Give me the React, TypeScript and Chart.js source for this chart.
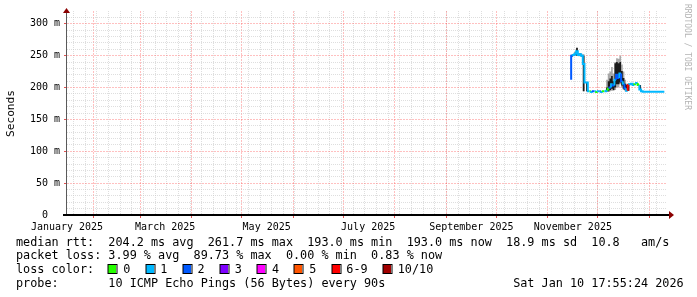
import React, { useEffect, useRef } from "react";
import { Chart, registerables } from "chart.js";

Chart.register(...registerables);

// ---- time axis (days counted from 1 Jan 2025) ----
const X_MIN_DAY = 15;
const X_MAX_DAY = 375;
const WEEK_DAYS = [19, 26, 33, 40, 47, 54, 61, 68, 75, 82, 89, 96, 103, 110, 117, 124, 131, 138, 145, 152, 159, 166, 173, 180, 187, 194, 201, 208, 215, 222, 229, 236, 243, 250, 257, 264, 271, 278, 285, 292, 299, 306, 313, 320, 327, 334, 341, 348, 355, 362, 369];
const MONTH_DAYS = [31, 59, 90, 120, 151, 181, 212, 243, 273, 304, 334, 365];
const MONTH_LABEL_DAYS = [15, 74, 135, 196, 258, 319];
const MONTH_LABELS = ["January 2025", "March 2025", "May 2025", "July 2025", "September 2025", "November 2025"];

// ---- value axis (milliseconds) ----
const Y_MAX = 320;
const Y_MINOR = [10, 20, 30, 40, 60, 70, 80, 90, 110, 120, 130, 140, 160, 170, 180, 190, 210, 220, 230, 240, 260, 270, 280, 290, 310];
const Y_MAJOR = [0, 50, 100, 150, 200, 250, 300];
const Y_LABELS = ["0  ", "50 m", "100 m", "150 m", "200 m", "250 m", "300 m"];

// ---- measurements ----
const DAYS = [318, 319, 320, 321, 322, 323, 324, 325, 326, 327, 328, 329, 330, 331, 332, 333, 334, 335, 336, 337, 338, 339, 340, 341, 342, 343, 344, 345, 346, 347, 348, 349, 350, 351, 352, 353, 354, 355, 356, 357, 358, 359, 360, 361, 362, 363, 364, 365, 366, 367, 368, 369, 370, 371, 372, 373, 374];
const MEDIAN_MS = [212, 250, 251, 253, 257, 251, 252, 250, 237, 208, 208, 194, 194, 193, 194, 194, 193, 194, 194, 193, 194, 194, 195, 198, 200, 205, 203, 212, 220, 215, 222, 210, 206, 199, 195, 204, 205, 206, 204, 205, 207, 204, 197, 194, 193.5, 193.5, 193.5, 193.5, 193.5, 193.5, 193.5, 193.5, 193.5, 193.5, 193.5, 193.5, 193.5];
const LOSS = [2, 1, 1, 1, 1, 1, 1, 1, 1, 1, 1, 0, 1, 2, 1, 0, 1, 2, 1, 0, 1, 1, 0, 2, 1, 2, 1, 2, 2, 1, 2, 1, 2, 1, 7, 1, 1, 1, 0, 1, 0, 1, 1, 1, 1, 1, 1, 1, 1, 1, 1, 1, 1, 1, 1, 1, 1];
const SMOKE_LO = [210, 248, 249, 250, 250, 249, 249, 248, 194, 208, 194, 194, 194, 193, 194, 194, 193, 194, 194, 193, 194, 194, 193, 193, 194, 195, 195, 196, 200, 200, 205, 200, 196, 194, 194, 195, 205, 206, 204, 205, 207, 204, 196, 194, 193.5, 193.5, 193.5, 193.5, 193.5, 193.5, 193.5, 193.5, 193.5, 193.5, 193.5, 193.5, 193.5];
const SMOKE_HI = [250, 252, 253, 256, 263, 254, 254, 252, 252, 208, 208, 194, 194, 193, 194, 194, 193, 194, 194, 193, 194, 194, 212, 222, 225, 232, 222, 240, 246, 245, 250, 236, 225, 212, 206, 207, 205, 206, 204, 205, 207, 204, 204, 194, 193.5, 193.5, 193.5, 193.5, 193.5, 193.5, 193.5, 193.5, 193.5, 193.5, 193.5, 193.5, 193.5];
const CORE_LO = [212, 249, 250, 251, 250, 250, 250, 249, 194, 208, 194, 194, 194, 193, 194, 194, 193, 194, 194, 193, 194, 194, 194, 194, 196, 198, 196, 200, 205, 205, 208, 203, 198, 196, 195, 195, 205, 206, 204, 205, 207, 204, 196, 194, 193.5, 193.5, 193.5, 193.5, 193.5, 193.5, 193.5, 193.5, 193.5, 193.5, 193.5, 193.5, 193.5];
const CORE_HI = [248, 251, 252, 255, 262, 253, 253, 251, 250, 208, 208, 194, 194, 193, 194, 194, 193, 194, 194, 193, 194, 194, 200, 210, 214, 218, 210, 238, 240, 238, 240, 226, 215, 206, 204, 205, 205, 206, 204, 205, 207, 204, 204, 194, 193.5, 193.5, 193.5, 193.5, 193.5, 193.5, 193.5, 193.5, 193.5, 193.5, 193.5, 193.5, 193.5];

// ---- legend ----
const LOSS_LABELS = ["0", "1", "2", "3", "4", "5", "6-9", "10/10"];
const LOSS_COLORS = ["#26ff00", "#00b8ff", "#0059ff", "#7e00ff", "#ff00ff", "#ff5500", "#ff0000", "#a10000"];
const STAT_LINES = [
  "median rtt:  204.2 ms avg  261.7 ms max  193.0 ms min  193.0 ms now  18.9 ms sd  10.8   am/s",
  "packet loss: 3.99 % avg  89.73 % max  0.00 % min  0.83 % now",
];
const LOSS_TITLE = "loss color:";
const PROBE_TEXT = "probe:       10 ICMP Echo Pings (56 Bytes) every 90s";
const DATE_TEXT = "Sat Jan 10 17:55:24 2026";
const Y_TITLE = "Seconds";
const CREDIT = "RRDTOOL / TOBI OETIKER";

const MONO = "'DejaVu Sans Mono', monospace";
const MINOR_GRID = "rgba(200,200,200,0.6)";
const MAJOR_GRID = "rgba(255,70,70,0.34)";
const MAJOR_TICK = "rgba(220,40,40,0.8)";

function lossColor(n: number): string {
  if (n <= 5) return LOSS_COLORS[n];
  if (n <= 9) return LOSS_COLORS[6];
  return LOSS_COLORS[7];
}

const decor = {
  id: "decor",
  afterDraw(chart: any) {
    const c: CanvasRenderingContext2D = chart.ctx;
    const a = chart.chartArea;
    c.save();
    // y axis line + arrow
    c.strokeStyle = "#5a5a5a";
    c.lineWidth = 1;
    c.beginPath();
    c.moveTo(a.left - 0.5, a.bottom);
    c.lineTo(a.left - 0.5, a.top + 2);
    c.stroke();
    c.fillStyle = "#8b0000";
    c.beginPath();
    c.moveTo(a.left - 4, a.top + 2);
    c.lineTo(a.left + 3, a.top + 2);
    c.lineTo(a.left - 0.5, a.top - 3);
    c.closePath();
    c.fill();
    // x axis line + arrow
    c.fillStyle = "#000";
    c.fillRect(a.left - 4, a.bottom - 1, a.right - a.left + 7, 2);
    c.fillStyle = "#8b0000";
    c.beginPath();
    c.moveTo(a.right + 3, a.bottom - 4);
    c.lineTo(a.right + 3, a.bottom + 4);
    c.lineTo(a.right + 8, a.bottom);
    c.closePath();
    c.fill();

    // y title
    c.fillStyle = "#000";
    c.font = `11.2px ${MONO}`;
    c.textAlign = "center";
    c.textBaseline = "middle";
    c.save();
    c.translate(11, 113.5);
    c.rotate(-Math.PI / 2);
    c.fillText(Y_TITLE, 0, 0);
    c.restore();

    // credit
    c.save();
    c.fillStyle = "#b4b4b4";
    c.font = `8px ${MONO}`;
    c.textAlign = "left";
    c.textBaseline = "middle";
    c.translate(687.5, 4);
    c.rotate(Math.PI / 2);
    c.fillText(CREDIT, 0, 0);
    c.restore();

    // legend text
    c.font = `11.8px ${MONO}`;
    c.textAlign = "left";
    c.textBaseline = "alphabetic";
    c.fillStyle = "#000";
    const x0 = 16;
    const cw = c.measureText("0").width;
    const base = [245.5, 259.25, 273, 286.75];
    c.fillText(STAT_LINES[0], x0, base[0]);
    c.fillText(STAT_LINES[1], x0, base[1]);
    c.fillText(LOSS_TITLE, x0, base[2]);
    let x = x0 + 13 * cw;
    for (let i = 0; i < LOSS_LABELS.length; i++) {
      const sx = Math.round(x);
      c.fillStyle = LOSS_COLORS[i];
      c.fillRect(sx, 265, 8, 8);
      c.strokeStyle = "#000";
      c.lineWidth = 1;
      c.strokeRect(sx, 264.5, 9, 9);
      c.fillStyle = "#000";
      const lx = x + 14.8;
      c.fillText(LOSS_LABELS[i], lx, base[2]);
      x = lx + c.measureText(LOSS_LABELS[i]).width + 15.3;
    }
    c.fillText(PROBE_TEXT, x0, base[3]);
    c.fillText(DATE_TEXT, x0 + 70 * cw, base[3]);
    c.restore();
  },
};

export default function App() {
  const ref = useRef<HTMLCanvasElement>(null);
  useEffect(() => {
    document.body.style.margin = "0";
    const pts = (ys: number[]) => DAYS.map((d, i) => ({ x: d, y: ys[i] }));
    const none = "rgba(0,0,0,0)";
    const chart = new Chart(ref.current as HTMLCanvasElement, {
      type: "line",
      data: {
        datasets: [
          { label: "smoke max", order: 3, data: pts(SMOKE_HI), xAxisID: "x", yAxisID: "y", borderColor: none, borderWidth: 1, pointRadius: 0, stepped: "after", fill: false },
          { label: "smoke min", order: 3, data: pts(SMOKE_LO), xAxisID: "x", yAxisID: "y", borderColor: none, borderWidth: 1, pointRadius: 0, stepped: "after", fill: "-1", backgroundColor: "#a8a8a8" },
          { label: "core max", order: 2, data: pts(CORE_HI), xAxisID: "x", yAxisID: "y", borderColor: none, borderWidth: 1, pointRadius: 0, stepped: "after", fill: false },
          { label: "core min", order: 2, data: pts(CORE_LO), xAxisID: "x", yAxisID: "y", borderColor: none, borderWidth: 1, pointRadius: 0, stepped: "after", fill: "-1", backgroundColor: "#1a1a1a" },
          {
            label: "median rtt",
            order: 0,
            data: pts(MEDIAN_MS),
            xAxisID: "x",
            yAxisID: "y",
            borderWidth: 2,
            pointRadius: 0,
            stepped: "after",
            fill: false,
            borderColor: LOSS_COLORS[1],
            segment: { borderColor: (ctx: any) => lossColor(LOSS[ctx.p0DataIndex]) },
          },
        ] as any,
      },
      options: {
        responsive: false,
        animation: false,
        devicePixelRatio: 1,
        layout: { padding: { left: 0, top: 11, right: 31, bottom: 0 } },
        plugins: { legend: { display: false }, tooltip: { enabled: false }, title: { display: false } },
        scales: {
          x: {
            type: "linear", axis: "x", position: "bottom", min: X_MIN_DAY, max: X_MAX_DAY, bounds: "data",
            afterBuildTicks: (s: any) => { s.ticks = WEEK_DAYS.map((v) => ({ value: v })); },
            afterFit: (s: any) => { s.height = 0; },
            ticks: { display: false },
            grid: { color: MINOR_GRID, drawTicks: false, lineWidth: 1 },
            border: { display: false, dash: [1, 1] },
          },
          xMonth: {
            type: "linear", axis: "x", position: "bottom", min: X_MIN_DAY, max: X_MAX_DAY, bounds: "data",
            afterBuildTicks: (s: any) => { s.ticks = MONTH_DAYS.map((v) => ({ value: v })); },
            afterFit: (s: any) => { s.height = 0; },
            ticks: { display: false },
            grid: { color: MAJOR_GRID, drawTicks: true, tickLength: 3, tickColor: MAJOR_TICK, lineWidth: 1 },
            border: { display: false, dash: [2, 1] },
          },
          xLab: {
            type: "linear", axis: "x", position: "bottom", min: X_MIN_DAY, max: X_MAX_DAY, bounds: "data",
            afterBuildTicks: (s: any) => { s.ticks = MONTH_LABEL_DAYS.map((v) => ({ value: v })); },
            afterFit: (s: any) => { s.height = 82; },
            ticks: {
              display: true, autoSkip: false, maxRotation: 0, minRotation: 0, padding: -2, color: "#000",
              font: { family: MONO, size: 10 },
              callback: (_v: any, i: number) => MONTH_LABELS[i],
            },
            grid: { display: false },
            border: { display: false },
          },
          y: {
            type: "linear", axis: "y", position: "left", min: 0, max: Y_MAX, bounds: "data",
            afterBuildTicks: (s: any) => { s.ticks = Y_MINOR.map((v) => ({ value: v })); },
            afterFit: (s: any) => { s.width = 0; },
            ticks: { display: false },
            grid: { color: MINOR_GRID, drawTicks: false, lineWidth: 1 },
            border: { display: false, dash: [1, 1] },
          },
          yMajor: {
            type: "linear", axis: "y", position: "left", min: 0, max: Y_MAX, bounds: "data",
            afterBuildTicks: (s: any) => { s.ticks = Y_MAJOR.map((v) => ({ value: v })); },
            afterFit: (s: any) => { s.width = 67; },
            ticks: {
              display: true, autoSkip: false, padding: 4, color: "#000",
              font: { family: MONO, size: 10 },
              callback: (_v: any, i: number) => Y_LABELS[i],
            },
            grid: { color: MAJOR_GRID, drawTicks: true, tickLength: 3, tickColor: MAJOR_TICK, lineWidth: 1 },
            border: { display: false, dash: [2, 1] },
          },
        } as any,
      },
      plugins: [decor],
    });
    return () => chart.destroy();
  }, []);
  return (
    <div style={{ position: "fixed", left: 0, top: 0, width: 697, height: 297, background: "#fff" }}>
      <canvas ref={ref} width={697} height={297} style={{ display: "block", width: 697, height: 297 }} />
    </div>
  );
}
